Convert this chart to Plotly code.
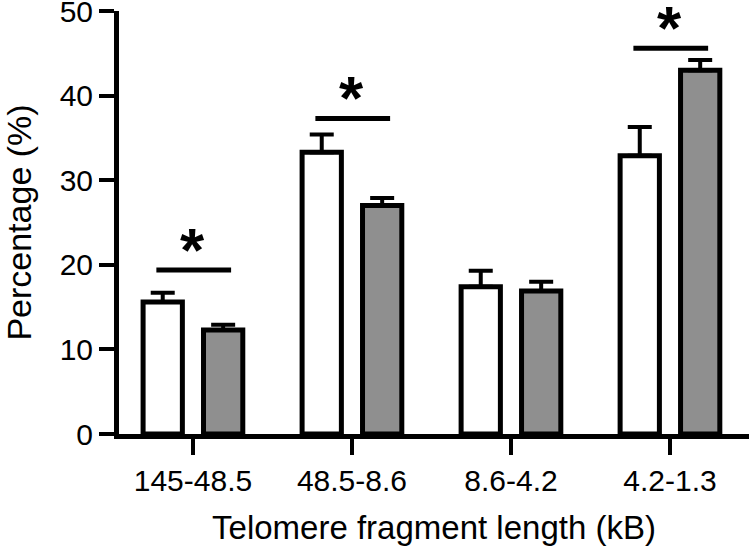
import plotly.graph_objects as go

# dados
categorias = ['145-48.5', '48.5-8.6', '8.6-4.2', '4.2-1.3']
brancas = [15.6, 33.3, 17.4, 32.9]
brancas_erro = [1.1, 2.1, 1.9, 3.4]
cinzas = [12.3, 27.0, 16.9, 43.0]
cinzas_erro = [0.6, 0.9, 1.1, 1.2]
# altura das barras de significância (None = sem asterisco)
signif = [19.4, 37.3, None, 45.6]

fonte = 'Liberation Sans'

trace_b = go.Bar(x=categorias, y=brancas,
                 marker=dict(color='white', line=dict(color='black', width=5)),
                 error_y=dict(type='data', array=brancas_erro, symmetric=False,
                              arrayminus=[0] * len(brancas_erro),
                              color='black', thickness=4, width=12))

trace_c = go.Bar(x=categorias, y=cinzas,
                 marker=dict(color='#8f8f8f', line=dict(color='black', width=5)),
                 error_y=dict(type='data', array=cinzas_erro, symmetric=False,
                              arrayminus=[0] * len(cinzas_erro),
                              color='black', thickness=4, width=12))

fig = go.Figure(data=[trace_b, trace_c])

# linhas e asteriscos de significância
for i, nivel in enumerate(signif):
    if nivel is None:
        continue
    fig.add_shape(type='line', xref='x', yref='y',
                  x0=i - 0.23, x1=i + 0.24, y0=nivel, y1=nivel,
                  line=dict(color='black', width=5))
    fig.add_annotation(x=i, y=nivel, xref='x', yref='y', text='<b>*</b>',
                       showarrow=False, yanchor='bottom', yshift=-16,
                       font=dict(family=fonte, size=62, color='black'))

fig.update_layout(
    width=749, height=547,
    margin=dict(l=119, r=0, t=11, b=113),
    plot_bgcolor='white', paper_bgcolor='white',
    barmode='group', bargap=0.24, bargroupgap=0.35,
    showlegend=False,
    font=dict(family=fonte, color='black'),
    xaxis=dict(range=[-0.465, 3.497], showline=True, linecolor='black', linewidth=5,
               ticks='outside', ticklen=16, tickwidth=4, tickcolor='black',
               tickfont=dict(size=30), showgrid=False, zeroline=False, automargin=False,
               title=dict(text='Telomere fragment length (kB)', font=dict(size=33), standoff=21)),
    yaxis=dict(range=[0, 50], tickvals=[0, 10, 20, 30, 40, 50], showline=True,
               linecolor='black', linewidth=5, ticks='outside', ticklen=15, tickwidth=4,
               tickcolor='black', tickfont=dict(size=30), showgrid=False, zeroline=False,
               automargin=False, ticklabeloverflow='allow',
               title=dict(text='Percentage (%)', font=dict(size=34), standoff=21)),
)

# tira a margem padrão do body para a figura ocupar a janela inteira
fig.write_html('out.html', config={'displayModeBar': False},
               post_script="document.body.style.margin = '0';")
